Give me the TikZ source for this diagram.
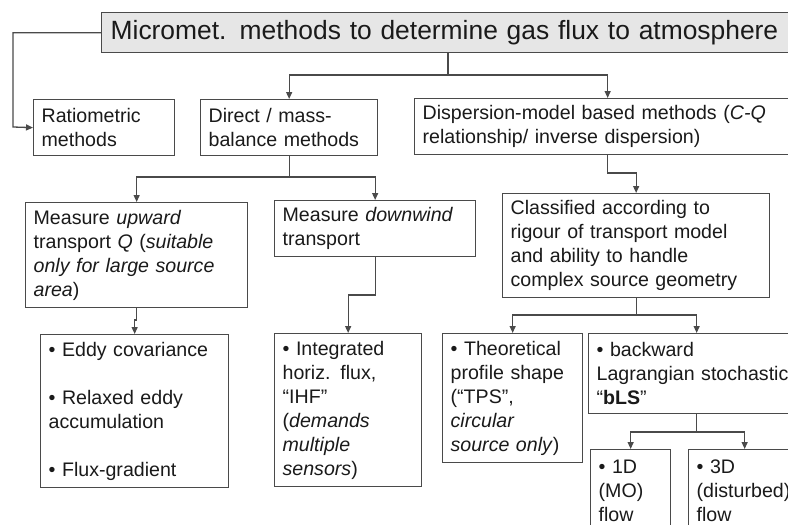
\documentclass[tikz,border=0pt]{standalone}
\usepackage{fontspec}
\setmainfont{Liberation Sans}
\usetikzlibrary{arrows.meta}
\definecolor{linec}{HTML}{4A4A4A}
\definecolor{titlefill}{HTML}{E6E6E6}
\definecolor{txt}{HTML}{1A1A1A}
\begin{document}
\begin{tikzpicture}[x=1pt,y=-1pt,
  box/.style={draw=linec, line width=1.3pt, fill=white, inner xsep=8pt, inner ysep=0pt,
    align=left, font=\fontsize{19.6}{24}\selectfont, text=txt, anchor=north west},
  conn/.style={draw=linec, line width=1.3pt},
  arr/.style={conn, -{Triangle[length=7pt,width=6pt]}},
]
\useasboundingbox (0,0) rectangle (788,525);
\fill[white] (0,0) rectangle (788,525);
\clip (0,0) rectangle (788,525);

\node[box, fill=titlefill, inner xsep=9pt, font=\fontsize{26.4}{30}\selectfont,
  minimum width=699pt, text width=681pt, minimum height=40pt] (title) at (101,12)
  {Micromet. methods to determine gas flux to atmosphere};

\node[box, minimum width=141pt, text width=125pt, minimum height=56pt] (ratio) at (33,99)
  {Ratiometric\\methods};
\node[box, minimum width=177pt, text width=161pt, minimum height=56pt] (direct) at (200,99)
  {Direct / mass-\\balance methods};
\node[box, minimum width=386pt, text width=370pt, minimum height=56pt] (disp) at (414,98)
  {Dispersion-model based methods (\textit{C-Q}\\relationship/ inverse dispersion)};

\node[box, minimum width=222pt, text width=206pt, minimum height=105pt] (up) at (25,202)
  {Measure \textit{upward}\\transport \textit{Q} (\textit{suitable}\\\textit{only for large source}\\\textit{area})};
\node[box, minimum width=201pt, text width=185pt, minimum height=56pt] (down) at (274,200)
  {Measure \textit{downwind}\\transport};
\node[box, minimum width=267pt, text width=251pt, minimum height=104pt] (class) at (502,193)
  {Classified according to\\rigour of transport model\\and ability to handle\\complex source geometry};

\node[box, minimum width=188pt, text width=172pt, minimum height=153pt] (eddy) at (40,334)
  {• Eddy covariance\\[24pt]• Relaxed eddy\\accumulation\\[24pt]• Flux-gradient};
\node[box, minimum width=147pt, text width=131pt, minimum height=153pt] (ihf) at (274,333)
  {• Integrated\\horiz. flux,\\“IHF”\\(\textit{demands}\\\textit{multiple}\\\textit{sensors})};
\node[box, minimum width=140pt, text width=124pt, minimum height=129pt] (tps) at (442,333)
  {•~Theoretical\\profile~shape\\(“TPS”,\\\textit{circular}\\\textit{source only})};
\node[box, minimum width=216pt, text width=200pt, minimum height=80pt] (bls) at (588,333)
  {• backward\\Lagrangian~stochastic\\“\textbf{bLS}”};
\node[box, minimum width=80pt, text width=64pt, minimum height=82pt] (one) at (590,449)
  {• 1D\\(MO)\\flow};
\node[box, minimum width=112pt, text width=96pt, minimum height=82pt] (three) at (688,449)
  {• 3D\\(disturbed)\\flow};

% connectors
\coordinate (rl) at (13,127);
\draw[arr] (title.west) -| (rl) -- (ratio.west);

\coordinate (tj) at (448,75);
\draw[conn] (title.south -| tj) -- (tj);
\draw[arr] (tj) -| (direct.north);
\draw[arr] (tj) -| (disp.north);

\coordinate (dj) at (direct.south |- 0,177);
\draw[conn] (direct.south) -- (dj);
\draw[arr] (dj) -| (up.north);
\draw[arr] (dj) -| (down.north);

\draw[arr] (up.south) -- (up.south |- 0,320) -| (eddy.north);
\draw[arr] (down.south) -- (down.south |- 0,295) -| (ihf.north);
\draw[arr] (disp.south) -- (disp.south |- 0,173) -| (class.north);

\coordinate (cj) at (class.south |- 0,315);
\draw[conn] (class.south) -- (cj);
\draw[arr] (cj) -| (tps.north);
\draw[arr] (cj) -| (bls.north);

\coordinate (bj) at (bls.south |- 0,432);
\draw[conn] (bls.south) -- (bj);
\draw[arr] (bj) -| (one.north);
\draw[arr] (bj) -| (three.north);
\end{tikzpicture}
\end{document}
